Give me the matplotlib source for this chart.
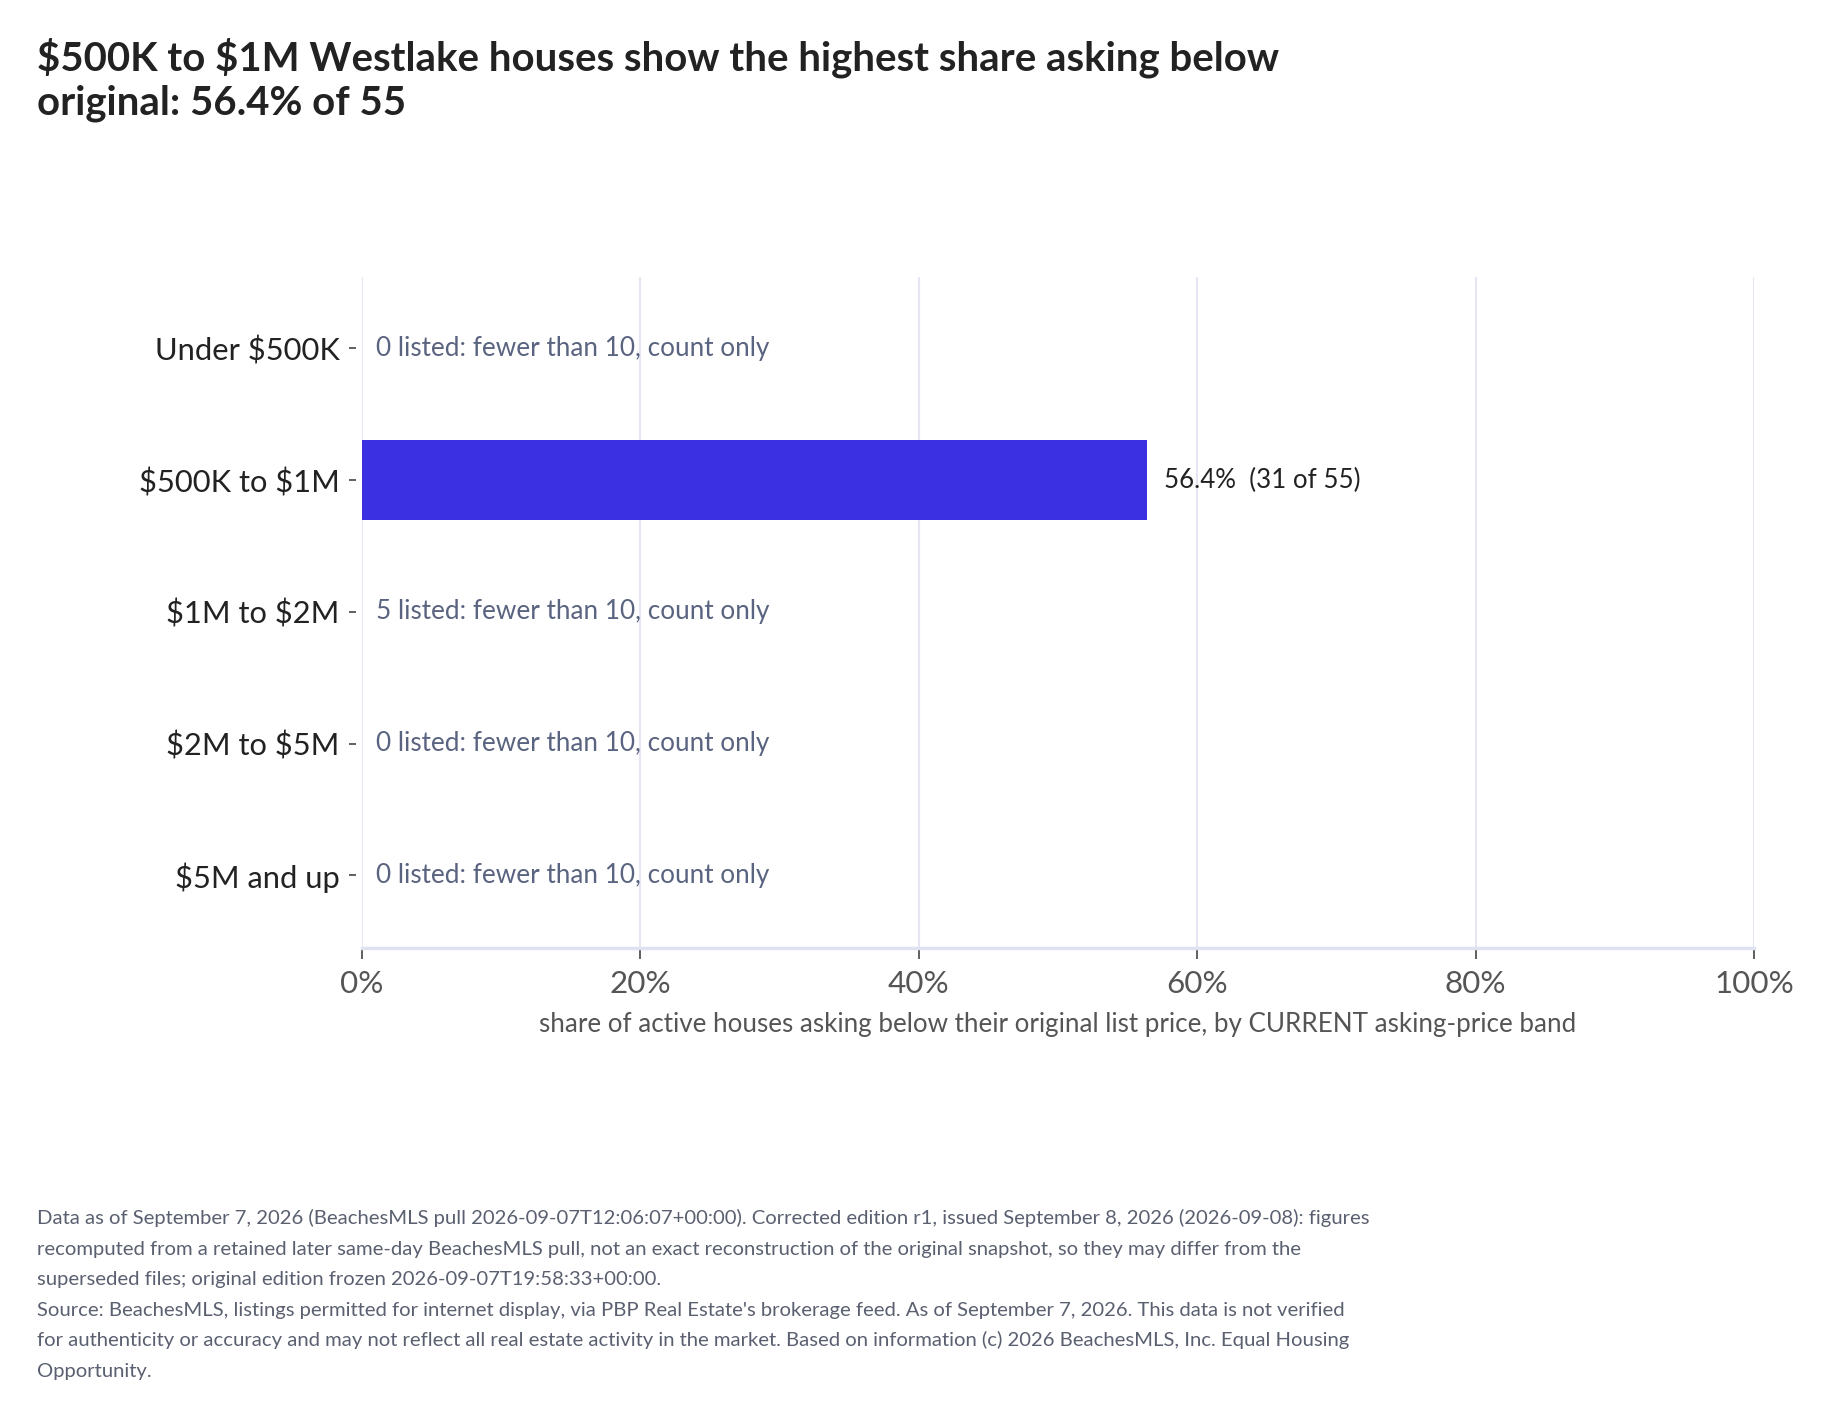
import matplotlib
matplotlib.use('Agg')
import matplotlib.pyplot as plt
from matplotlib.ticker import FuncFormatter

plt.rcParams['font.family'] = ['Lato', 'DejaVu Sans']
plt.rcParams['text.parse_math'] = False

bands = ['Under $500K', '$500K to $1M', '$1M to $2M', '$2M to $5M', '$5M and up']
share_pct = [0, 56.4, 0, 0, 0]
listed = [0, 55, 5, 0, 0]
below = [0, 31, 0, 0, 0]
shown = [False, True, False, False, False]
x_ticks = [0, 20, 40, 60, 80, 100]

title_lines = ['$500K to $1M Westlake houses show the highest share asking below',
               'original: 56.4% of 55']
x_label = 'share of active houses asking below their original list price, by CURRENT asking-price band'
foot_lines = [
    'Data as of September 7, 2026 (BeachesMLS pull 2026-09-07T12:06:07+00:00). Corrected edition r1, issued September 8, 2026 (2026-09-08): figures',
    'recomputed from a retained later same-day BeachesMLS pull, not an exact reconstruction of the original snapshot, so they may differ from the',
    'superseded files; original edition frozen 2026-09-07T19:58:33+00:00.',
    "Source: BeachesMLS, listings permitted for internet display, via PBP Real Estate's brokerage feed. As of September 7, 2026. This data is not verified",
    'for authenticity or accuracy and may not reflect all real estate activity in the market. Based on information (c) 2026 BeachesMLS, Inc. Equal Housing',
    'Opportunity.',
]

W, H = 1821, 1418
fig = plt.figure(figsize=(W / 100, H / 100), dpi=100)
ax = fig.add_axes([362 / W, 1 - 948 / H, (1754 - 362) / W, (948 - 277) / H])

ypos = list(range(len(bands)))
vals = [v if s else 0 for v, s in zip(share_pct, shown)]
ax.barh(ypos, vals, height=0.61, color='#3b31e3', zorder=3)

for i in ypos:
    if shown[i]:
        ax.annotate('%.1f%%  (%d of %d)' % (share_pct[i], below[i], listed[i]),
                    xy=(share_pct[i], i), xytext=(17, 0), textcoords='offset pixels',
                    va='center', ha='left', fontsize=18.6, color='#222222', zorder=4)
    else:
        ax.annotate('%d listed: fewer than 10, count only' % listed[i],
                    xy=(0, i), xytext=(14, 0), textcoords='offset pixels',
                    va='center', ha='left', fontsize=18.8, color='#5a6480', zorder=4)

ax.set_xlim(0, 100)
ax.set_ylim(len(bands) - 0.45, -0.54)
ax.set_yticks(ypos)
ax.set_yticklabels(bands)
ax.set_xticks(x_ticks)
ax.xaxis.set_major_formatter(FuncFormatter(lambda v, p: '%d%%' % v))

ax.grid(axis='x', color='#e6e6f2', linewidth=1.5, zorder=0)
ax.set_axisbelow(True)
for s in ['top', 'right']:
    ax.spines[s].set_visible(False)
ax.spines['left'].set_position(('outward', 4))
ax.spines['left'].set_color('none')
ax.spines['bottom'].set_color('#dfe2f0')
ax.spines['bottom'].set_linewidth(2.5)

ax.tick_params(axis='y', length=5, width=1.2, color='#444444', pad=7,
               labelsize=22.2, labelcolor='#222222')
ax.tick_params(axis='x', length=8, width=1.2, color='#444444', pad=8,
               labelsize=22.6, labelcolor='#555555')
ax.set_xlabel(x_label, fontsize=18.7, color='#555555', labelpad=10)

fig.text(37 / W, 1 - 71 / H, title_lines[0], fontsize=28.9, fontweight='bold',
         color='#222222', va='baseline', ha='left')
fig.text(37 / W, 1 - 115 / H, title_lines[1], fontsize=28.9, fontweight='bold',
         color='#222222', va='baseline', ha='left')

for k, line in enumerate(foot_lines):
    fig.text(37 / W, 1 - (1224 + k * 30.6) / H, line, fontsize=14.55, color='#5a6070',
             va='baseline', ha='left')

fig.savefig('out.png', dpi=100)
